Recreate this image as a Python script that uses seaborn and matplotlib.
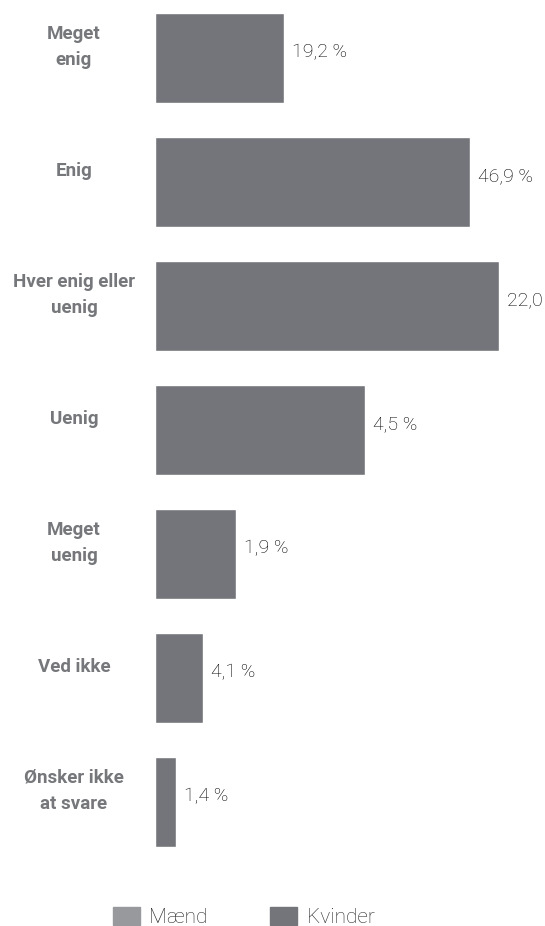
import matplotlib
matplotlib.use("Agg")
import matplotlib.pyplot as plt
import matplotlib.patches as mpatches
import seaborn as sns
import pandas as pd

# data
kategorier = ["Meget\nenig", "Enig", "Hver enig eller\nuenig", "Uenig",
              "Meget\nuenig", "Ved ikke", "Ønsker ikke\nat svare"]
kvinder = [19.2, 46.9, 51.3, 31.3, 12.1, 7.2, 3.1]
etiketter = ["19,2 %", "46,9 %", "22,0 %", "4,5 %", "1,9 %", "4,1 %", "1,4 %"]
serier = ["Mænd", "Kvinder"]
farver = ["#98999c", "#73757a"]

df = pd.DataFrame({"kategori": kategorier, "andel": kvinder})

sns.set_style("white")
plt.rcParams["font.family"] = ["Roboto", "DejaVu Sans"]

fig = plt.figure(figsize=(5.45, 9.26), dpi=100)
ax = fig.add_axes([155 / 545, 1 - 870 / 926, 390 / 545, 870 / 926])

sns.barplot(data=df, y="kategori", x="andel", orient="h", color=farver[1],
            saturation=1, width=0.726, ax=ax)

ax.set_xlim(0, 58.1)
ax.set_ylim(6.548, -0.468)
ax.set_xlabel("")
ax.set_ylabel("")
ax.set_xticks([])
ax.set_yticks([])
sns.despine(ax=ax, left=True, bottom=True)

# procentetiketter
for i, (v, t) in enumerate(zip(kvinder, etiketter)):
    ax.annotate(t, (v, i), xytext=(8, 6), textcoords="offset pixels",
                va="center", ha="left", fontsize=14, color="#000000",
                fontweight="light", annotation_clip=False)

# kategorinavne
for i, k in enumerate(kategorier):
    ax.annotate(k, (0, i), xytext=(74, 11), xycoords=("figure pixels", "data"),
                textcoords="offset pixels", va="center", ha="center",
                fontsize=13.5, fontweight="bold", color="#75777b",
                linespacing=1.6, annotation_clip=False)

handles = [mpatches.Patch(color=c, label=s) for s, c in zip(serier, farver)]
fig.legend(handles=handles, loc="center", bbox_to_anchor=(0.447, 1 - 917 / 926),
           ncol=2, frameon=False, handlelength=1.3, handleheight=1.0,
           columnspacing=3.0, handletextpad=0.45,
           prop={"family": ["Roboto", "DejaVu Sans"], "weight": "light", "size": 15})

fig.savefig("out.png", dpi=100)
